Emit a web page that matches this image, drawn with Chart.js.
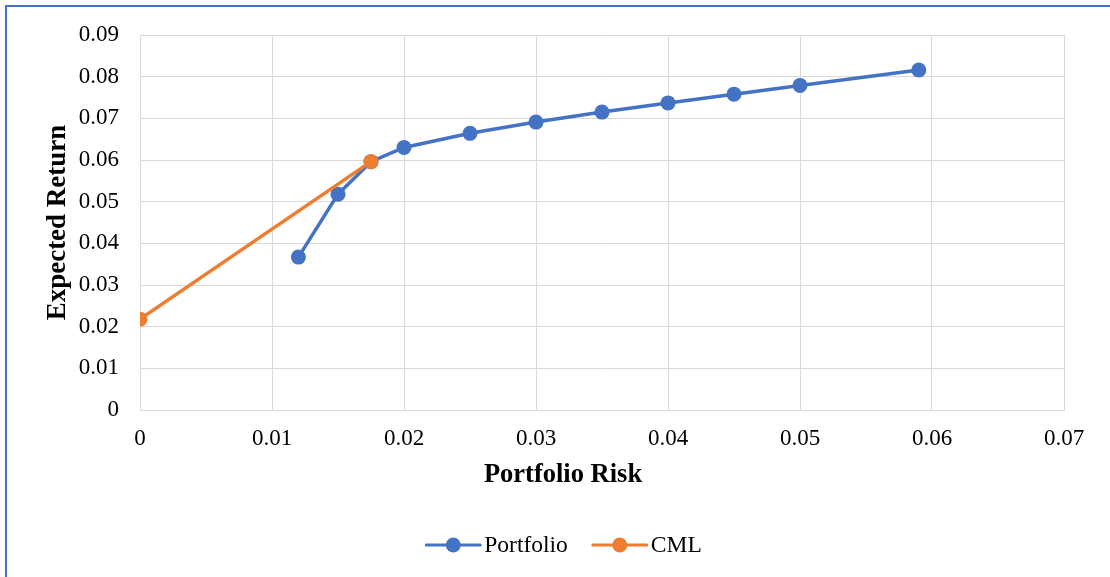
<!DOCTYPE html>
<html>
<head>
<meta charset="utf-8">
<script src="https://cdn.jsdelivr.net/npm/chart.js@4/dist/chart.umd.min.js"></script>
<style>
  html, body { margin: 0; padding: 0; background: #fff; overflow: hidden; }
  #wrap { position: relative; width: 1110px; height: 577px; }
  #frame { position: absolute; left: 5px; top: 5px; width: 1200px; height: 700px;
           border-left: 2px solid #4472C4; border-top: 2px solid #4472C4; box-sizing: border-box;
           pointer-events: none; }
  canvas { position: absolute; left: 0; top: 0; }
</style>
</head>
<body>
<div id="wrap">
  <canvas id="c" width="1110" height="577"></canvas>
  <div id="frame"></div>
</div>
<script>
// Efficient frontier (risk, return) and the capital market line
const portfolioRisk   = [0.012, 0.015, 0.0175, 0.020, 0.025, 0.030, 0.035, 0.040, 0.045, 0.050, 0.059];
const portfolioReturn = [0.0367, 0.0518, 0.0596, 0.0630, 0.0664, 0.0691, 0.0715, 0.0737, 0.0758, 0.0779, 0.0816];
const cmlRisk   = [0, 0.0175];
const cmlReturn = [0.0218, 0.0596];

const xTicks = [0, 0.01, 0.02, 0.03, 0.04, 0.05, 0.06, 0.07];
const yTicks = [0, 0.01, 0.02, 0.03, 0.04, 0.05, 0.06, 0.07, 0.08, 0.09];

const xTitle = 'Portfolio Risk';
const yTitle = 'Expected Return';

const BLUE = '#4472C4';
const ORANGE = '#ED7D31';
const GRID = '#D9D9D9';
const SERIF = '"Liberation Serif", "Times New Roman", serif';

const toPoints = (xs, ys) => xs.map((x, i) => ({ x: x, y: ys[i] }));

// x-axis title, centred on the whole chart frame rather than the plot area
const xAxisTitle = {
  id: 'xAxisTitle',
  afterDraw(chart) {
    const ctx = chart.ctx;
    ctx.save();
    ctx.font = 'bold 26.5px ' + SERIF;
    ctx.fillStyle = '#000';
    ctx.textAlign = 'center';
    ctx.textBaseline = 'middle';
    ctx.fillText(xTitle, 563, 475);
    ctx.restore();
  }
};

// Legend drawn below the plot: line segment with a dot, then the label
const lineLegend = {
  id: 'lineLegend',
  afterDraw(chart) {
    const ctx = chart.ctx;
    const items = [chart.data.datasets[0], chart.data.datasets[1]];
    const y = 545;
    const segW = 54, gap = 4, spacing = 25;
    ctx.save();
    ctx.font = '23.5px ' + SERIF;
    ctx.textBaseline = 'middle';
    const widths = items.map(d => segW + gap + ctx.measureText(d.label).width);
    const total = widths.reduce((a, b) => a + b, 0) + spacing * (items.length - 1);
    let x = (chart.width - total) / 2 + 9;
    items.forEach((d, i) => {
      ctx.strokeStyle = d.borderColor;
      ctx.lineWidth = 3;
      ctx.lineCap = 'round';
      ctx.beginPath();
      ctx.moveTo(x, y);
      ctx.lineTo(x + segW, y);
      ctx.stroke();
      ctx.fillStyle = d.borderColor;
      ctx.beginPath();
      ctx.arc(x + segW / 2, y, 7.5, 0, Math.PI * 2);
      ctx.fill();
      ctx.fillStyle = '#000';
      ctx.textAlign = 'left';
      ctx.fillText(d.label, x + segW + gap, y + 1);
      x += widths[i] + spacing;
    });
    ctx.restore();
  }
};

new Chart(document.getElementById('c'), {
  type: 'scatter',
  data: {
    datasets: [
      {
        label: 'Portfolio',
        data: toPoints(portfolioRisk, portfolioReturn),
        showLine: true,
        borderColor: BLUE,
        backgroundColor: BLUE,
        borderWidth: 3.5,
        pointRadius: 7.5,
        pointHoverRadius: 7.5,
        pointBorderWidth: 0,
        order: 2
      },
      {
        label: 'CML',
        data: toPoints(cmlRisk, cmlReturn),
        showLine: true,
        borderColor: ORANGE,
        backgroundColor: ORANGE,
        borderWidth: 3.5,
        pointRadius: 7.5,
        pointHoverRadius: 7.5,
        pointBorderWidth: 0,
        order: 1
      }
    ]
  },
  options: {
    responsive: false,
    animation: false,
    devicePixelRatio: 1,
    layout: { padding: { left: 0, right: 46, top: 35, bottom: 0 } },
    plugins: {
      legend: { display: false },
      tooltip: { enabled: false }
    },
    scales: {
      x: {
        type: 'linear',
        min: 0,
        max: 0.07,
        afterBuildTicks: s => { s.ticks = xTicks.map(v => ({ value: v })); },
        afterFit: s => { s.height = 167; },
        grid: { color: GRID, lineWidth: 1, drawTicks: false },
        border: { color: GRID, width: 1 },
        ticks: {
          color: '#000',
          padding: 15,
          font: { family: SERIF, size: 23 },
          callback: v => String(+v.toFixed(2))
        },
        title: { display: false }
      },
      y: {
        type: 'linear',
        min: 0,
        max: 0.09,
        afterBuildTicks: s => { s.ticks = yTicks.map(v => ({ value: v })); },
        afterFit: s => { s.width = 140; },
        grid: { color: GRID, lineWidth: 1, drawTicks: false },
        border: { color: GRID, width: 1 },
        ticks: {
          color: '#000',
          padding: 21,
          font: { family: SERIF, size: 23 },
          callback: v => String(+v.toFixed(2))
        },
        title: {
          display: true,
          text: yTitle,
          color: '#000',
          font: { family: SERIF, size: 27, weight: 'bold' },
          padding: { top: 42, bottom: 0 }
        }
      }
    }
  },
  plugins: [xAxisTitle, lineLegend]
});
</script>
</body>
</html>
